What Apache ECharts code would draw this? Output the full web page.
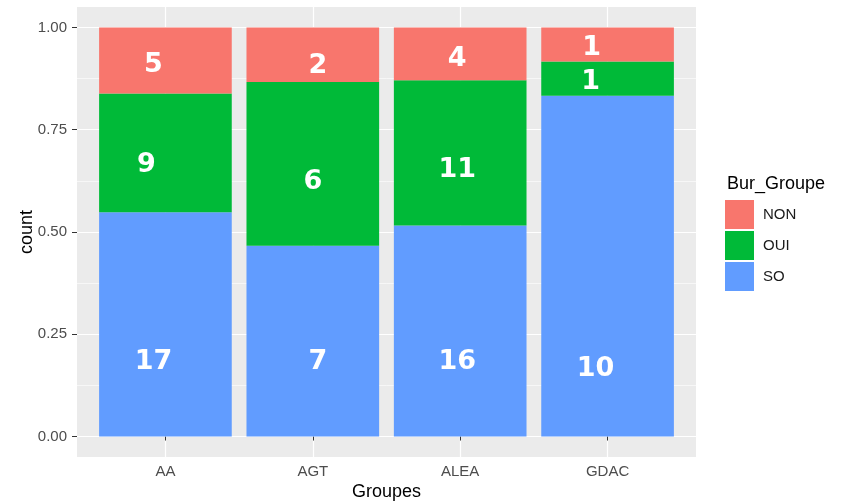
<!DOCTYPE html>
<html>
<head>
<meta charset="utf-8">
<script src="https://cdn.jsdelivr.net/npm/echarts@6/dist/echarts.min.js"></script>
<style>html,body{margin:0;padding:0;background:#fff}#c{width:844px;height:503px}</style>
</head>
<body>
<div id="c"></div>
<script>
// ---- data ----
const categories = ['AA', 'AGT', 'ALEA', 'GDAC'];
const countSO  = [17, 7, 16, 10];
const countOUI = [9, 6, 11, 1];
const countNON = [5, 2, 4, 1];
const yTickValues = [0, 0.25, 0.5, 0.75, 1];
const yMinorValues = [0.125, 0.375, 0.625, 0.875];
const legendNames = ['NON', 'OUI', 'SO'];

// ---- label placement (style, px offsets from segment centre) ----
const offSO  = [[-12, 38], [5, 21], [-3, 31], [-12, 103]];
const offOUI = [[-19, 12], [0, 18], [-3, 17], [-17, 3]];
const offNON = [[-12, 5], [5, 11], [-3, 5], [-16, 3]];

const totals = categories.map((c, i) => countSO[i] + countOUI[i] + countNON[i]);
const xPos = categories.map((c, i) => i + 1);

const panel = { left: 77, right: 696, top: 7, bottom: 457 };
const xMin = 0.4, xMax = 4.6;
const unit = (panel.right - panel.left) / (xMax - xMin);
const barLeft = panel.left + (0.5 - xMin) * unit;
const barRight = panel.left + (categories.length + 0.5 - xMin) * unit;

function mk(name, counts, offs, color) {
  return {
    name: name, type: 'bar', stack: 'total', barCategoryGap: '10%',
    xAxisIndex: 1, yAxisIndex: 2,
    itemStyle: { color: color },
    label: {
      show: true, position: 'inside', color: '#fff',
      fontFamily: 'DejaVu Sans', fontWeight: 'bold', fontSize: 27,
      formatter: p => String(counts[p.dataIndex])
    },
    data: categories.map((c, i) => ({
      value: counts[i] / totals[i],
      label: { offset: offs[i] }
    }))
  };
}

const chart = echarts.init(document.getElementById('c'), null, { renderer: 'canvas' });
chart.setOption({
  animation: false,
  backgroundColor: '#fff',
  textStyle: { fontFamily: 'Liberation Sans' },
  title: {
    text: 'Bur_Groupe', left: 727, top: 175, padding: 0,
    textStyle: { fontSize: 18, fontWeight: 'normal', color: '#000', fontFamily: 'Liberation Sans' }
  },
  legend: {
    data: legendNames, orient: 'vertical', left: 725, top: 200, padding: 0,
    itemWidth: 29, itemHeight: 29, itemGap: 2, icon: 'rect',
    selectedMode: false,
    textStyle: { fontSize: 15, color: '#1a1a1a', padding: [0, 0, 0, 4], fontFamily: 'Liberation Sans' }
  },
  grid: [{
    left: panel.left, right: 844 - panel.right, top: panel.top, bottom: 503 - panel.bottom,
    show: true, backgroundColor: '#EBEBEB', borderWidth: 0, outerBoundsMode: 'none', containLabel: false
  }, {
    left: barLeft, right: 844 - barRight, top: panel.top, bottom: 503 - panel.bottom,
    show: false, outerBoundsMode: 'none', containLabel: false
  }],
  xAxis: [{
    gridIndex: 0, type: 'value', min: xMin, max: xMax,
    name: 'Groupes', nameLocation: 'middle', nameGap: 26, nameMoveOverlap: false,
    nameTextStyle: { fontSize: 18, color: '#000' },
    axisLine: { show: false },
    axisTick: { show: true, length: 4, customValues: xPos, lineStyle: { color: '#333', width: 1 } },
    axisLabel: {
      customValues: xPos, color: '#4D4D4D', fontSize: 15, margin: 7,
      formatter: v => categories[Math.round(v) - 1] || ''
    },
    splitLine: { show: true, lineStyle: { color: '#fff', width: 1.2 } }
  }, {
    gridIndex: 1, type: 'category', data: categories, boundaryGap: true, show: false
  }],
  yAxis: [{
    gridIndex: 0, type: 'value', min: -0.05, max: 1.05,
    name: 'count', nameLocation: 'middle', nameGap: 41, nameRotate: 90, nameMoveOverlap: false,
    nameTextStyle: { fontSize: 18, color: '#000' },
    axisLine: { show: false },
    axisTick: { show: true, length: 5, customValues: yTickValues, lineStyle: { color: '#333', width: 1 } },
    axisLabel: { customValues: yTickValues, color: '#4D4D4D', fontSize: 15, margin: 10, formatter: v => v.toFixed(2) },
    splitLine: { show: true, lineStyle: { color: '#fff', width: 1.2 } }
  }, {
    gridIndex: 0, type: 'value', min: -0.05, max: 1.05, position: 'left',
    axisLine: { show: false },
    axisTick: { show: false, customValues: yMinorValues },
    axisLabel: { show: false, customValues: yMinorValues },
    splitLine: { show: true, lineStyle: { color: '#fff', width: 0.6 } }
  }, {
    gridIndex: 1, type: 'value', min: -0.05, max: 1.05, show: false, splitLine: { show: false }
  }],
  series: [
    mk('SO', countSO, offSO, '#619CFF'),
    mk('OUI', countOUI, offOUI, '#00BA38'),
    mk('NON', countNON, offNON, '#F8766D')
  ]
});
</script>
</body>
</html>
